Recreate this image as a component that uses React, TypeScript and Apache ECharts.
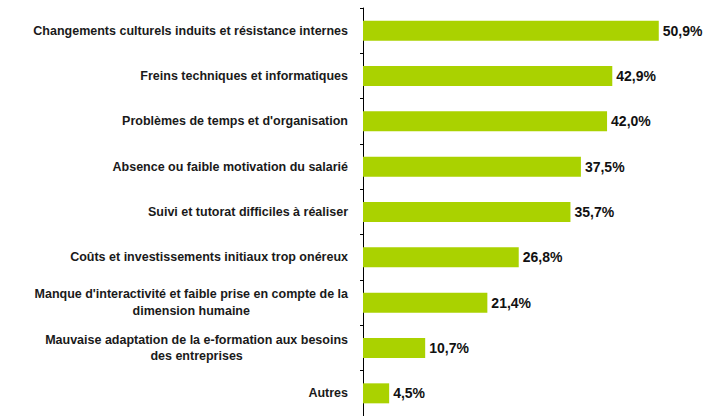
import React, { useEffect, useRef } from "react";
import * as echarts from "echarts";

const categories = [
  "Changements culturels induits et résistance internes",
  "Freins techniques et informatiques",
  "Problèmes de temps et d'organisation",
  "Absence ou faible motivation du salarié",
  "Suivi et tutorat difficiles à réaliser",
  "Coûts et investissements initiaux trop onéreux",
  "Manque d'interactivité et faible prise en compte de la\ndimension humaine",
  "Mauvaise adaptation de la e-formation aux besoins\ndes entreprises",
  "Autres",
];
const values = [50.9, 42.9, 42.0, 37.5, 35.7, 26.8, 21.4, 10.7, 4.5];

const FONT = "'Liberation Sans', Arial, sans-serif";

export default function App() {
  const ref = useRef<HTMLDivElement>(null);
  useEffect(() => {
    const chart = echarts.init(ref.current!, null, { renderer: "svg" });
    chart.setOption({
      animation: false,
      grid: { left: 363, right: 24.4, top: 8, bottom: -2, containLabel: false },
      xAxis: { type: "value", min: 0, max: 55, show: false },
      yAxis: {
        type: "category",
        inverse: true,
        data: categories,
        axisLine: { show: true, lineStyle: { color: "#000", width: 1 } },
        axisTick: { show: true, length: 3, lineStyle: { color: "#000" } },
        axisLabel: {
          margin: 15,
          align: "right",
          formatter: (v: string) => v.split("\n").map((l) => `{c|${l}}`).join("\n"),
          rich: {
            c: {
              align: "center",
              fontSize: 12.5,
              fontWeight: "bold",
              fontFamily: FONT,
              color: "#1a1a1a",
              lineHeight: 16.5,
            },
          },
        },
      },
      series: [
        {
          type: "bar",
          data: values,
          barWidth: 20,
          itemStyle: { color: "#AAD200" },
          label: {
            show: true,
            position: "right",
            distance: 4,
            fontSize: 14,
            fontWeight: "bold",
            fontFamily: FONT,
            color: "#111",
            formatter: (p: any) => p.value.toFixed(1).replace(".", ",") + "%",
          },
        },
      ],
    });
    return () => chart.dispose();
  }, []);
  return <div ref={ref} style={{ width: 707, height: 416, position: "absolute", left: 0, top: 0 }} />;
}
